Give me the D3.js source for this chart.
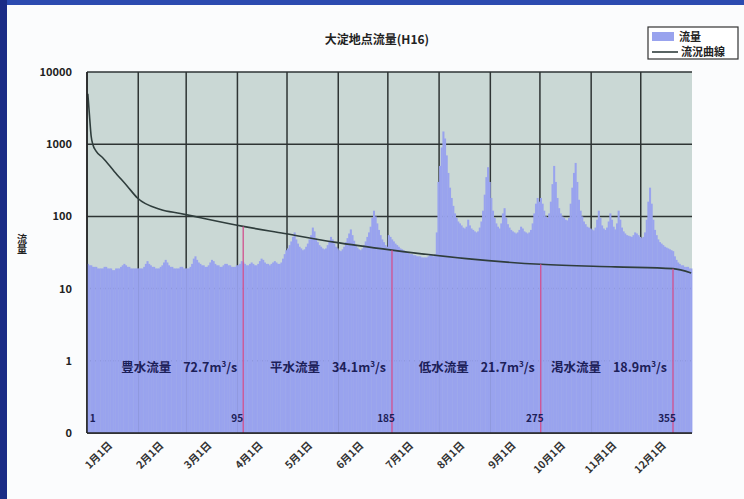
<!DOCTYPE html>
<html>
<head>
<meta charset="utf-8">
<script src="https://cdn.jsdelivr.net/npm/d3@7"></script>
<style>
  body { margin: 0; background: #fff; }
  svg text { font-family: "Noto Sans CJK JP", "Noto Sans", sans-serif; }
</style>
</head>
<body>
<div class="flow-chart"></div>
<script>
var W = 744, H = 499;
var pLeft = 87, pRight = 692, pTop = 72, pBottom = 433;

var titleText = "大淀地点流量(H16)";
var yTicks = [0.1, 1, 10, 100, 1000, 10000];
var monthLabels = ["1月1日","2月1日","3月1日","4月1日","5月1日","6月1日","7月1日","8月1日","9月1日","10月1日","11月1日","12月1日"];
var monthStartDays = [1, 32, 61, 92, 122, 153, 183, 214, 245, 275, 306, 336];

// daily flow (m3/s), H16 = 366 days, one row per month
var dailyFlow = [
  22,21,21,20,20,20,19,19,19,19,20,20,19,19,19,18,18,19,19,19,20,21,22,21,20,20,19,19,19,19,19,
  19,19,19,20,22,24,22,21,20,20,19,19,19,20,21,23,25,23,21,20,20,19,19,19,19,20,20,19,19,
  19,19,20,22,26,28,25,23,22,21,21,20,20,21,23,25,24,22,21,21,20,20,21,22,22,21,21,20,20,20,21,
  21,22,24,23,22,21,21,22,23,22,21,21,22,24,26,25,23,22,22,21,22,23,24,23,22,22,23,26,30,34,
  36,40,45,52,60,48,42,38,36,34,35,38,42,48,55,70,62,50,44,40,38,36,35,36,40,46,52,48,42,38,36,
  34,33,35,38,44,50,58,66,55,46,40,37,35,34,36,40,45,52,60,72,95,120,100,80,65,55,48,44,40,38,
  55,52,48,45,42,40,38,36,35,34,33,32,31,30,30,29,29,28,28,28,27,27,27,27,28,30,29,28,30,60,300,
  500,900,1500,1200,700,400,250,180,140,110,95,85,80,75,70,68,72,90,75,68,65,62,60,62,70,85,120,200,350,480,300,
  180,120,95,80,72,68,80,110,130,95,78,70,65,62,60,58,60,65,72,68,62,60,58,60,65,80,110,150,180,160,
  180,150,120,100,95,110,160,280,500,300,180,130,110,100,95,90,88,95,150,250,400,550,300,170,120,100,85,78,72,70,68,
  66,64,70,90,120,95,75,68,65,70,85,110,90,72,66,80,120,90,70,62,58,55,54,53,52,55,60,58,55,52,
  50,52,60,90,160,250,150,90,65,55,48,44,42,40,38,37,36,35,34,33,28,25,23,22,21,21,20,20,20,19,19
];

// flow duration curve (rank in days, flow m3/s)
var durationRank = [1, 2, 3, 4, 6, 10, 17, 25, 31, 45, 57, 70, 95, 120, 150, 185, 230, 275, 320, 355, 366];
var durationFlow = [5000, 2500, 1300, 1000, 800, 650, 420, 260, 180, 125, 110, 95, 72.7, 58, 44, 34.1, 26, 21.7, 20, 18.9, 16.5];

var markerRank = [95, 185, 275, 355];
var markerName = ["豊水流量", "平水流量", "低水流量", "渇水流量"];
var markerFlow = [72.7, 34.1, 21.7, 18.9];
var rankLabels = [1, 95, 185, 275, 355];

var svg = d3.select(".flow-chart")
  .append("svg")
  .attr("width", W)
  .attr("height", H);

// photo frame edges
svg.append("rect").attr("x", 0).attr("y", 0).attr("width", W).attr("height", H).attr("fill", "#fbfcfd");
svg.append("rect").attr("x", 0).attr("y", 0).attr("width", W).attr("height", 5).attr("fill", "#2c4bb0");
svg.append("rect").attr("x", 0).attr("y", 0).attr("width", 7).attr("height", H).attr("fill", "#1b2c86");

var xScale = d3.scaleLinear()
  .domain([0, 366])
  .range([pLeft, pRight]);

var yScale = d3.scaleLog()
  .domain([0.1, 10000])
  .range([pBottom, pTop]);

// plot background
svg.append("rect")
  .attr("x", pLeft)
  .attr("y", pTop)
  .attr("width", pRight - pLeft)
  .attr("height", pBottom - pTop)
  .attr("fill", "#cad8d5");

// gridlines (behind the bars)
svg.append("g")
  .selectAll("line")
  .data(yTicks)
  .enter().append("line")
  .attr("x1", pLeft).attr("x2", pRight)
  .attr("y1", function(d) { return yScale(d); })
  .attr("y2", function(d) { return yScale(d); })
  .attr("stroke", "#2e3434")
  .attr("stroke-width", 1.5);

svg.append("g")
  .selectAll("line")
  .data(monthStartDays)
  .enter().append("line")
  .attr("x1", function(d) { return xScale(d - 1); })
  .attr("x2", function(d) { return xScale(d - 1); })
  .attr("y1", pTop).attr("y2", pBottom)
  .attr("stroke", "#2e3434")
  .attr("stroke-width", 1.5);

// daily flow bars
svg.append("g")
  .selectAll("rect")
  .data(dailyFlow)
  .enter().append("rect")
  .attr("x", function(d, i) { return xScale(i); })
  .attr("width", function(d, i) { return xScale(i + 1) - xScale(i) + 0.4; })
  .attr("y", function(d) { return yScale(d); })
  .attr("height", function(d) { return pBottom - yScale(d); })
  .attr("fill", "#99a3ee");

// duration curve
var durationData = durationRank.map(function(r, i) { return {rank: r, flow: durationFlow[i]}; });
var curveLine = d3.line()
  .x(function(d) { return xScale(d.rank - 0.5); })
  .y(function(d) { return yScale(d.flow); })
  .curve(d3.curveMonotoneX);

svg.append("path")
  .datum(durationData)
  .attr("d", curveLine)
  .attr("fill", "none")
  .attr("stroke", "#2f3d3c")
  .attr("stroke-width", 1.6);

// marker drop lines and annotations
markerRank.forEach(function(r, i) {
  var mx = xScale(r - 0.5);
  svg.append("line")
    .attr("x1", mx).attr("x2", mx)
    .attr("y1", yScale(markerFlow[i])).attr("y2", pBottom)
    .attr("stroke", "#d2508e")
    .attr("stroke-width", 1.3);

  var t = svg.append("text")
    .attr("x", mx - 6)
    .attr("y", 372)
    .attr("text-anchor", "end")
    .attr("font-size", 12.5)
    .attr("font-weight", "bold")
    .attr("fill", "#1c2058");
  t.append("tspan").text(markerName[i]);
  t.append("tspan").attr("dx", 12).text(markerFlow[i] + "m");
  t.append("tspan").attr("font-size", 8).attr("dy", -5).text("3");
  t.append("tspan").attr("dy", 5).text("/s");
});

svg.append("g")
  .selectAll("text")
  .data(rankLabels)
  .enter().append("text")
  .attr("x", function(d) { return xScale(d - 0.5) - (d > 1 ? 6 : -2); })
  .attr("y", 422)
  .attr("text-anchor", function(d) { return d > 1 ? "middle" : "start"; })
  .attr("font-size", 10)
  .attr("font-weight", "bold")
  .attr("fill", "#1c2058")
  .text(function(d) { return d; });

// axes lines
svg.append("line")
  .attr("x1", pLeft).attr("x2", pLeft).attr("y1", pTop).attr("y2", pBottom)
  .attr("stroke", "#222").attr("stroke-width", 1.5);
svg.append("line")
  .attr("x1", pLeft).attr("x2", pRight).attr("y1", pBottom).attr("y2", pBottom)
  .attr("stroke", "#222").attr("stroke-width", 1.5);

var yAxis = d3.axisLeft(yScale)
  .tickValues(yTicks)
  .tickFormat(function(d) { return d < 1 ? "0" : d; })
  .tickSize(0)
  .tickPadding(15);

svg.append("g")
  .attr("transform", "translate(" + pLeft + ",0)")
  .call(yAxis)
  .call(function(g) { g.select(".domain").remove(); })
  .selectAll("text")
    .attr("font-size", 11)
    .attr("font-weight", "bold")
    .attr("fill", "#222")
    .style("font-family", "\"Noto Sans CJK JP\", sans-serif");

// month labels, slanted
svg.append("g")
  .selectAll("text")
  .data(monthStartDays)
  .enter().append("text")
  .attr("transform", function(d) { return "translate(" + (xScale(d - 1) + 26) + "," + (pBottom + 13) + ") rotate(-45)"; })
  .attr("text-anchor", "end")
  .attr("font-size", 10.5)
  .attr("font-weight", "bold")
  .attr("fill", "#333")
  .text(function(d, i) { return monthLabels[i]; });

// y axis title, stacked vertically
svg.append("text")
  .attr("x", 22)
  .attr("y", 244)
  .attr("text-anchor", "middle")
  .attr("font-size", 10)
  .attr("font-weight", "bold")
  .attr("fill", "#222")
  .style("writing-mode", "vertical-rl")
  .text("流量");

// title
svg.append("text")
  .attr("x", 377)
  .attr("y", 44)
  .attr("text-anchor", "middle")
  .attr("font-size", 12)
  .attr("font-weight", "bold")
  .attr("fill", "#222")
  .text(titleText);

// legend
var legend = svg.append("g").attr("transform", "translate(648,27)");
legend.append("rect")
  .attr("width", 90).attr("height", 32)
  .attr("fill", "#fff").attr("stroke", "#333").attr("stroke-width", 1.2);
legend.append("rect")
  .attr("x", 4).attr("y", 5).attr("width", 22).attr("height", 9)
  .attr("fill", "#99a3ee");
legend.append("text")
  .attr("x", 31).attr("y", 14)
  .attr("font-size", 11).attr("font-weight", "bold").attr("fill", "#222")
  .text("流量");
legend.append("line")
  .attr("x1", 4).attr("x2", 30).attr("y1", 25).attr("y2", 25)
  .attr("stroke", "#2f3d3c").attr("stroke-width", 1.6);
legend.append("text")
  .attr("x", 33).attr("y", 29)
  .attr("font-size", 11).attr("font-weight", "bold").attr("fill", "#222")
  .text("流況曲線");
</script>
</body>
</html>
